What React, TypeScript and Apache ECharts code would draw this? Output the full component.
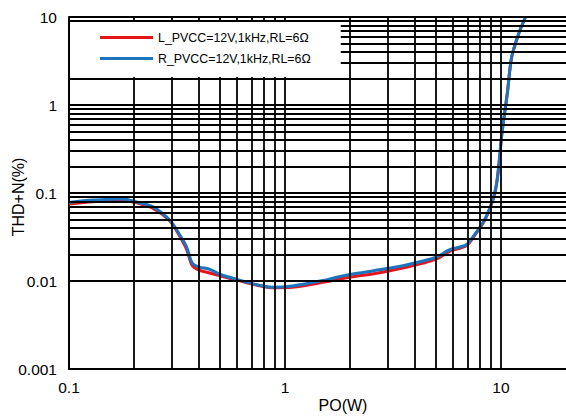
import React, { useEffect, useRef } from "react";
import * as echarts from "echarts";

const FONT = "'Liberation Sans', Arial, sans-serif";

const seriesNames = ["L_PVCC=12V,1kHz,RL=6Ω", "R_PVCC=12V,1kHz,RL=6Ω"];

const poL = [0.1, 0.129, 0.178, 0.206, 0.244, 0.293, 0.326, 0.35, 0.372, 0.4, 0.444, 0.51, 0.61, 0.75, 0.87, 1.08, 1.55, 1.785, 2.2, 2.54, 3.64, 5.01, 5.75, 6.89, 7.35, 8.52, 9.48, 10.1, 10.7, 11.2, 12.1, 13.0];
const thdL = [0.075, 0.0796, 0.0818, 0.0774, 0.067, 0.048, 0.032, 0.023, 0.015, 0.0133, 0.0124, 0.0113, 0.0101, 0.0089, 0.0084, 0.0085, 0.0098, 0.01054, 0.0115, 0.012, 0.0143, 0.0177, 0.0216, 0.025, 0.03, 0.052, 0.115, 0.47, 1.35, 3.45, 6.5, 10];

const poR = [0.1, 0.129, 0.178, 0.206, 0.244, 0.293, 0.326, 0.35, 0.372, 0.4, 0.444, 0.51, 0.61, 0.75, 0.87, 1.08, 1.55, 1.785, 2.2, 2.54, 3.64, 5.01, 5.75, 6.89, 7.35, 8.52, 9.48, 10.1, 10.7, 11.2, 12.1, 13.0];
const thdR = [0.078, 0.083, 0.0855, 0.079, 0.07, 0.049, 0.0333, 0.0245, 0.016, 0.0144, 0.0137, 0.0117, 0.0103, 0.009, 0.00848, 0.00877, 0.0103, 0.0112, 0.0123, 0.013, 0.0152, 0.0186, 0.0225, 0.0257, 0.0308, 0.0533, 0.117, 0.48, 1.37, 3.5, 6.6, 10];

const xGridLines = [0.2, 0.3, 0.4, 0.5, 0.6, 0.7, 0.8, 0.9, 1, 2, 3, 4, 5, 6, 7, 8, 9, 10];
const yGridLines = [
  0.002, 0.003, 0.004, 0.005, 0.006, 0.007, 0.008, 0.009, 0.01,
  0.02, 0.03, 0.04, 0.05, 0.06, 0.07, 0.08, 0.09, 0.1,
  0.2, 0.3, 0.4, 0.5, 0.6, 0.7, 0.8, 0.9, 1,
  2, 3, 4, 5, 6, 7, 8, 9, 10,
];

const xName = "PO(W)";
const yName = "THD+N(%)";

const powLabel = (v: number) => {
  const l = Math.log10(v);
  return Math.abs(l - Math.round(l)) < 1e-6 ? String(+v.toPrecision(6)) : "";
};

export default function App() {
  const ref = useRef<HTMLDivElement>(null);
  useEffect(() => {
    if (!ref.current) return;
    const chart = echarts.init(ref.current, null, { renderer: "svg" });
    const curve = (name: string, xs: number[], ys: number[], color: string, z: number) => ({
      type: "line",
      name,
      data: xs.map((x, i) => [x, ys[i]]),
      color,
      showSymbol: false,
      smooth: 0.3,
      z,
      lineStyle: { width: 3, color },
      emphasis: { disabled: true },
    });
    chart.setOption({
      animation: false,
      backgroundColor: "#fff",
      grid: { left: 69, top: 17, width: 498.2, height: 352, containLabel: false },
      xAxis: {
        type: "log",
        logBase: 10,
        min: 0.1,
        max: 20,
        axisLine: { show: true, lineStyle: { color: "#000", width: 2 } },
        axisTick: { show: false },
        splitLine: { show: false },
        axisLabel: { fontFamily: FONT, fontSize: 15.5, color: "#000", margin: 10, formatter: powLabel, showMaxLabel: false },
      },
      yAxis: {
        type: "log",
        logBase: 10,
        min: 0.001,
        max: 10,
        axisLine: { show: true, lineStyle: { color: "#000", width: 2 } },
        axisTick: { show: false },
        splitLine: { show: false },
        axisLabel: { fontFamily: FONT, fontSize: 15.5, color: "#000", margin: 12, formatter: powLabel },
      },
      legend: {
        data: seriesNames,
        orient: "vertical",
        left: 70,
        top: 22,
        padding: [5, 30, 8, 30],
        backgroundColor: "#fff",
        icon: "rect",
        itemWidth: 53,
        itemHeight: 3,
        itemGap: 0,
        z: 10,
        textStyle: { fontFamily: FONT, fontSize: 12.4, color: "#000", lineHeight: 21 },
      },
      graphic: [
        {
          type: "text",
          x: 343,
          y: 405,
          style: { text: xName, font: `16px ${FONT}`, fill: "#000", textAlign: "center", textVerticalAlign: "middle" },
        },
        {
          type: "text",
          x: 18,
          y: 197,
          rotation: Math.PI / 2,
          style: { text: yName, font: `16px ${FONT}`, fill: "#000", textAlign: "center", textVerticalAlign: "middle" },
        },
      ],
      series: [
        {
          type: "line",
          name: "grid",
          data: [],
          z: 1,
          silent: true,
          markLine: {
            silent: true,
            symbol: ["none", "none"],
            label: { show: false },
            lineStyle: { color: "#000", width: 1.8, type: "solid" },
            emphasis: { disabled: true },
            data: [
              ...xGridLines.map((v) => ({ xAxis: v })),
              ...yGridLines.map((v) => ({ yAxis: v })),
            ],
          },
        },
        curve(seriesNames[0], poL, thdL, "#E8141C", 3),
        curve(seriesNames[1], poR, thdR, "#1C74BD", 4),
      ],
    });
    return () => chart.dispose();
  }, []);
  return <div ref={ref} style={{ position: "absolute", left: 0, top: 0, width: 566, height: 417 }} />;
}
